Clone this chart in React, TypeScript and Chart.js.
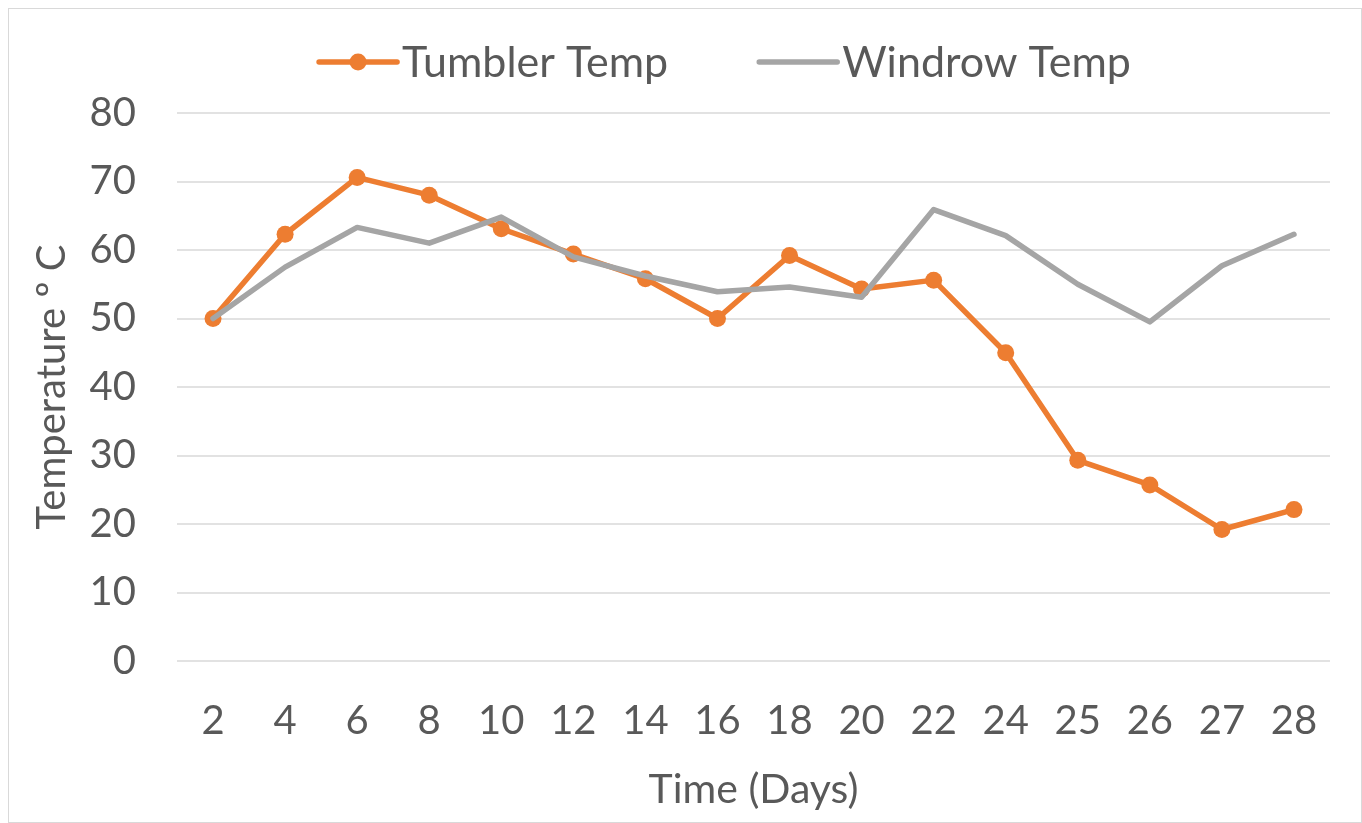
import React, { useEffect, useRef } from "react";
import { Chart, registerables } from "chart.js";

Chart.register(...registerables);

const days = ["2", "4", "6", "8", "10", "12", "14", "16", "18", "20", "22", "24", "25", "26", "27", "28"];
const tumblerTemp = [50, 62.3, 70.6, 68.0, 63.1, 59.4, 55.8, 50.0, 59.2, 54.3, 55.6, 45.0, 29.3, 25.7, 19.2, 22.1];
const windrowTemp = [50, 57.5, 63.3, 61.0, 64.8, 59.0, 56.2, 53.9, 54.6, 53.1, 65.9, 62.1, 55.0, 49.5, 57.7, 62.3];
const seriesNames = ["Tumbler Temp", "Windrow Temp"];
const yAxisTitle = "Temperature º C";
const xAxisTitle = "Time (Days)";
const yMin = 0;
const yMax = 80;
const yStep = 10;

const FONT = "Lato, 'Open Sans', sans-serif";
const TEXT_COLOR = "#595959";
const ORANGE = "#ED7D31";
const GRAY = "#A5A5A5";

const legendPlugin = {
  id: "customLegend",
  afterDraw(chart: any) {
    const ctx = chart.ctx;
    ctx.save();
    ctx.font = `43px ${FONT}`;
    ctx.textBaseline = "middle";
    ctx.textAlign = "left";
    const lineLen = 78;
    const gap = 5;
    const itemGap = 91;
    const items = chart.data.datasets.map((ds: any) => ({
      label: ds.label,
      color: ds.borderColor,
      radius: ds.pointRadius,
      lw: ds.borderWidth,
      w: ctx.measureText(ds.label).width,
    }));
    let total = 0;
    items.forEach((it: any, i: number) => {
      total += lineLen + gap + it.w + (i > 0 ? itemGap : 0);
    });
    const centerX = 716;
    const y = 53;
    let x = centerX - total / 2;
    items.forEach((it: any) => {
      ctx.strokeStyle = it.color;
      ctx.lineWidth = it.lw;
      ctx.lineCap = "round";
      ctx.beginPath();
      ctx.moveTo(x, y);
      ctx.lineTo(x + lineLen, y);
      ctx.stroke();
      if (it.radius > 0) {
        ctx.fillStyle = it.color;
        ctx.beginPath();
        ctx.arc(x + lineLen / 2, y, it.radius, 0, Math.PI * 2);
        ctx.fill();
      }
      ctx.fillStyle = TEXT_COLOR;
      ctx.fillText(it.label, x + lineLen + gap, y + 1);
      x += lineLen + gap + it.w + itemGap;
    });
    ctx.restore();
  },
};

export default function App() {
  const canvasRef = useRef<HTMLCanvasElement | null>(null);

  useEffect(() => {
    if (!canvasRef.current) return;
    const chart = new Chart(canvasRef.current, {
      type: "line",
      data: {
        labels: days,
        datasets: [
          {
            label: seriesNames[0],
            data: tumblerTemp,
            borderColor: ORANGE,
            backgroundColor: ORANGE,
            borderWidth: 5.5,
            pointRadius: 8.5,
            pointHoverRadius: 8.5,
            pointBackgroundColor: ORANGE,
            pointBorderWidth: 0,
            tension: 0,
            borderJoinStyle: "round",
            borderCapStyle: "round",
            order: 1,
          },
          {
            label: seriesNames[1],
            data: windrowTemp,
            borderColor: GRAY,
            backgroundColor: GRAY,
            borderWidth: 5.5,
            pointRadius: 0,
            pointHoverRadius: 0,
            tension: 0,
            borderJoinStyle: "round",
            borderCapStyle: "round",
            order: 0,
          },
        ],
      },
      options: {
        animation: false,
        responsive: false,
        maintainAspectRatio: false,
        layout: { padding: { top: 104, right: 31, bottom: 0, left: 0 } },
        plugins: {
          legend: { display: false },
          tooltip: { enabled: false },
        },
        scales: {
          x: {
            type: "category",
            offset: true,
            grid: { display: false, drawTicks: false },
            border: { display: false },
            ticks: {
              font: { family: FONT, size: 40 },
              color: TEXT_COLOR,
              padding: 36,
              maxRotation: 0,
              autoSkip: false,
            },
            title: {
              display: true,
              text: xAxisTitle,
              font: { family: FONT, size: 41 },
              color: TEXT_COLOR,
              padding: { top: 0, bottom: 8 },
            },
            afterFit: (scale: any) => {
              scale.height = 161;
            },
          },
          y: {
            min: yMin,
            max: yMax,
            grid: { color: "#e2e2e2", lineWidth: 2, drawTicks: false },
            border: { display: false },
            ticks: {
              stepSize: yStep,
              font: { family: FONT, size: 40 },
              color: TEXT_COLOR,
              padding: 41,
            },
            title: {
              display: true,
              text: yAxisTitle,
              font: { family: FONT, size: 40 },
              color: TEXT_COLOR,
              padding: { top: 19, bottom: 0 },
            },
            afterFit: (scale: any) => {
              scale.width = 168;
            },
          },
        },
      },
      plugins: [legendPlugin],
    });
    return () => chart.destroy();
  }, []);

  return (
    <div
      style={{
        position: "absolute",
        left: 8,
        top: 8,
        width: 1354,
        height: 815,
        border: "1px solid #d9d9d9",
        boxSizing: "border-box",
        background: "#fff",
      }}
    >
      <canvas ref={canvasRef} width={1352} height={813} style={{ display: "block", width: 1352, height: 813 }} />
    </div>
  );
}
